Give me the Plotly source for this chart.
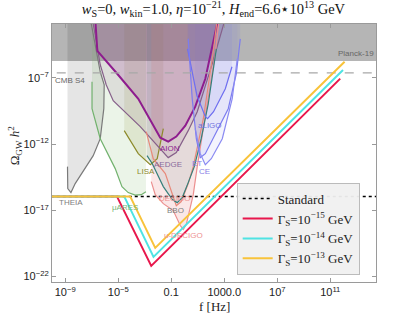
import numpy as np
import plotly.graph_objects as go

# all values are log10: frequency f [Hz] and Omega_GW h^2
TOP = -1.0  # fills are closed above the visible range

planck_level = -5.72
cmbs4_level = -6.61
standard_level = -15.95

theia_f = [-8.83, -8.81, -8.57, -8.25, -6.89, -6.36, -6.09, -6.06, -6.36, -7.11]
theia_om = [-13.70, -15.36, -15.66, -14.98, -12.87, -11.59, -9.32, -7.51, -6.53, -2.5]

mu_ares_f = [-6.98, -6.98, -6.36, -5.23, -4.72, -4.25, -3.72, -3.26, -2.91]
mu_ares_om = [-7.29, -9.32, -11.59, -13.85, -15.21, -15.66, -15.85, -15.82, -15.59]

lisa_f = [-4.55, -3.49, -2.58, -2.06, -1.60]
lisa_om = [-10.98, -12.72, -13.55, -13.10, -10.83]

aedge_f = [-6.96, -6.36, -5.91, -5.38, -3.34, -1.83, -1.23, -0.62, 0.28, 0.96, 2.09, 3.08]
aedge_om = [-2.5, -6.00, -7.51, -8.72, -10.68, -12.34, -13.02, -12.64, -10.98, -9.55, -5.93, -2.5]

aion_f = [-6.74, -6.58, -5.08, -3.49, -1.83, -1.23, -0.62, 0.06, 0.81, 1.57, 2.55]
aion_om = [-2.5, -4.95, -6.68, -8.57, -11.51, -11.81, -11.43, -10.60, -9.17, -7.06, -2.5]

bbo_f = [-2.83, -2.43, -1.60, -0.92, -0.55, -0.17, 0.28, 0.74, 1.26, 1.79, 2.40]
bbo_om = [-12.87, -13.48, -15.21, -16.19, -16.42, -16.04, -14.91, -13.70, -11.59, -8.95, -4.80]

decigo_f = [-2.89, -2.36, -1.45, -0.92, -0.62, -0.25, 0.28, 0.66, 1.42, 2.17, 2.47]
decigo_om = [-11.06, -13.10, -14.23, -15.74, -16.65, -16.34, -14.98, -13.70, -10.08, -5.02, -2.5]

udecigo_f = [-2.51, -2.21, -1.60, -0.85, -0.32, -0.09, 0.13, 0.36, 0.66, 0.96, 1.79, 2.32, 2.62]
udecigo_om = [-14.83, -15.82, -16.50, -17.02, -18.15, -18.45, -18.08, -17.10, -15.82, -13.70, -8.57, -5.17, -2.5]

aligo_f = [0.23, 0.94, 1.57, 1.74, 2.19, 3.08, 3.58]
aligo_om = [-4.80, -8.34, -9.93, -10.08, -9.55, -7.81, -6.15]

et_f = [0.28, 0.58, 0.89, 1.19, 1.57, 2.32, 3.30, 3.91, 4.21]
et_om = [-4.04, -8.57, -11.59, -13.02, -12.72, -11.21, -9.32, -6.68, -4.04]

ce_f = [0.81, 1.19, 1.57, 2.02, 2.85, 3.60, 3.98]
ce_om = [-10.83, -12.72, -13.55, -13.10, -11.59, -8.57, -5.55]

# signal for the three decay rates: flat, dip, rise
red_f = [-10.5, -5.10, -2.51, 11.75]
red_om = [standard_level, standard_level, -21.20, -7.05]
cyan_f = [-10.5, -4.55, -2.34, 11.96]
cyan_om = [standard_level, standard_level, -20.52, -6.40]
gold_f = [-10.5, -4.10, -2.21, 12.08]
gold_om = [standard_level, standard_level, -19.84, -5.77]

x_ticks = [-9, -5, -1, 3, 7, 11]
x_text = ["10<sup>−9</sup>", "10<sup>−5</sup>", "0.1", "1000.0", "10<sup>7</sup>", "10<sup>11</sup>"]
y_ticks = [-7, -12, -17, -22]
y_text = ["10<sup>−7</sup>", "10<sup>−12</sup>", "10<sup>−17</sup>", "10<sup>−22</sup>"]

p = lambda v: 10 ** np.asarray(v, dtype=float)

fig = go.Figure()


def add_fill(f, om, color):
    ff = list(f) + [f[-1], f[0]]
    oo = list(om) + [TOP, TOP]
    fig.add_trace(go.Scatter(x=p(ff), y=p(oo), mode="lines", fill="toself",
                             fillcolor=color, line=dict(width=0),
                             hoverinfo="skip", showlegend=False))


def add_line(f, om, color, width=1.2, dash="solid"):
    fig.add_trace(go.Scatter(x=p(f), y=p(om), mode="lines",
                             line=dict(color=color, width=width, dash=dash),
                             hoverinfo="skip", showlegend=False))


# shaded regions
add_fill([-11, 15], [planck_level, planck_level], "rgba(0,0,0,0.29)")
add_fill(theia_f, theia_om, "rgba(0,0,0,0.10)")
add_fill(mu_ares_f, mu_ares_om, "rgba(120,180,100,0.15)")
add_fill(lisa_f, lisa_om, "rgba(130,130,30,0.12)")
add_fill(aedge_f, aedge_om, "rgba(120,70,120,0.12)")
add_fill(aion_f, aion_om, "rgba(150,40,150,0.18)")
add_fill(udecigo_f, udecigo_om, "rgba(235,120,120,0.18)")
add_fill(bbo_f, bbo_om, "rgba(40,110,110,0.10)")
add_fill(aligo_f, aligo_om, "rgba(110,110,230,0.10)")
add_fill(et_f, et_om, "rgba(110,110,230,0.10)")
add_fill(ce_f, ce_om, "rgba(110,110,230,0.08)")

# detector outlines
add_line(theia_f, theia_om, "#7a7a7a")
add_line(mu_ares_f, mu_ares_om, "#72b26e")
add_line(lisa_f, lisa_om, "#8c8a2a")
add_line(aedge_f, aedge_om, "#86608a")
add_line(aion_f, aion_om, "#8e1c8e", width=2)
add_line(decigo_f, decigo_om, "#e8897a")
add_line(udecigo_f, udecigo_om, "#ec8f8f")
add_line(bbo_f, bbo_om, "#35807c")
add_line(aligo_f, aligo_om, "#6e6ef0")
add_line(et_f, et_om, "#7c7cf0")
add_line(ce_f, ce_om, "#8a8af2")
add_line([-11, 15], [cmbs4_level, cmbs4_level], "#a8a8a8", width=1.2, dash="dash")

# signals
fig.add_trace(go.Scatter(x=p([-11, 15]), y=p([standard_level, standard_level]), mode="lines",
                         line=dict(color="black", width=1.5, dash="dot"), name="Standard"))
fig.add_trace(go.Scatter(x=p(red_f), y=p(red_om), mode="lines",
                         line=dict(color="#e8174c", width=2), name="Γ<sub>S</sub>=10<sup>−15</sup> GeV"))
fig.add_trace(go.Scatter(x=p(cyan_f), y=p(cyan_om), mode="lines",
                         line=dict(color="#4fe3e3", width=2), name="Γ<sub>S</sub>=10<sup>−14</sup> GeV"))
fig.add_trace(go.Scatter(x=p(gold_f), y=p(gold_om), mode="lines",
                         line=dict(color="#f8c33a", width=2), name="Γ<sub>S</sub>=10<sup>−13</sup> GeV"))

# detector labels (log10 positions)
labels = [
    ("Planck-19", 12.96, -5.17, "#666666"),
    ("THEIA", -8.55, -16.38, "#808080"),
    ("μARES", -4.47, -16.80, "#7ab676"),
    ("LISA", -2.89, -14.08, "#8c8a2a"),
    ("AION", -1.08, -12.34, "#8e1c8e"),
    ("AEDGE", -1.23, -13.55, "#8a6a9a"),
    ("aLIGO", 1.94, -10.60, "#7070e0"),
    ("ET", 0.96, -13.48, "#8a80e6"),
    ("CE", 1.49, -14.08, "#8a80e6"),
    ("DECIGO", -0.70, -16.12, "#ee9090"),
    ("BBO", -0.70, -17.02, "#808080"),
    ("u-DECIGO", -0.09, -18.91, "#ee9090"),
]
for txt, lx, ly, col in labels:
    fig.add_annotation(x=lx, y=ly, xref="x", yref="y", text=txt, showarrow=False,
                       font=dict(family="Liberation Sans", size=8, color=col))
fig.add_annotation(x=-9.91, y=-7.21, xref="x", yref="y", text="CMB S4", showarrow=False,
                   xanchor="left", font=dict(family="Liberation Sans", size=8, color="#666666"))

# axis titles
fig.add_annotation(x=0.5, y=-0.096, xref="paper", yref="paper", text="f [Hz]", showarrow=False,
                   yanchor="middle", font=dict(family="Liberation Serif", size=13, color="#222"))
fig.add_annotation(x=-0.114, y=0.53, xref="paper", yref="paper",
                   text="Ω<sub>GW</sub> <i>h</i><sup>2</sup>",
                   showarrow=False, textangle=-90, xanchor="center", yanchor="middle",
                   font=dict(family="Liberation Serif", size=13, color="#222"))

axis_common = dict(type="log", showgrid=False, zeroline=False, showline=True, mirror="ticks",
                   linecolor="#9a9a9a", linewidth=1, ticks="inside", ticklen=4, tickcolor="#9a9a9a",
                   automargin=False,
                   tickfont=dict(family="Liberation Sans", size=11, color="#222"))

fig.update_layout(
    width=399, height=322,
    margin=dict(l=52, r=23, t=24, b=40),
    plot_bgcolor="white", paper_bgcolor="white",
    title=dict(text="<i>w</i><sub>S</sub>=0, <i>w</i><sub>kin</sub>=1.0, <i>η</i>=10<sup>−21</sup>, "
                    "<i>H</i><sub>end</sub>=6.6⋆10<sup>13</sup> GeV",
               x=0.535, xanchor="center", y=0.972, yanchor="middle",
               font=dict(family="Liberation Serif", size=14.5, color="#111")),
    xaxis=dict(range=[-10, 14.45], tickvals=p(x_ticks), ticktext=x_text, **axis_common),
    yaxis=dict(range=[-22.42, -2.92], tickvals=p(y_ticks), ticktext=y_text, **axis_common),
    legend=dict(x=0.57, y=0.385, xanchor="left", yanchor="top",
                bgcolor="rgba(240,240,240,0.95)", bordercolor="#bbbbbb", borderwidth=1,
                font=dict(family="Liberation Serif", size=13, color="#222"),
                tracegroupgap=0),
    showlegend=True,
)

# drop the default 8px page margin so the figure sits at the window corner
fig.write_html("out.html", config={"displayModeBar": False},
               post_script="document.body.style.margin='0';")
